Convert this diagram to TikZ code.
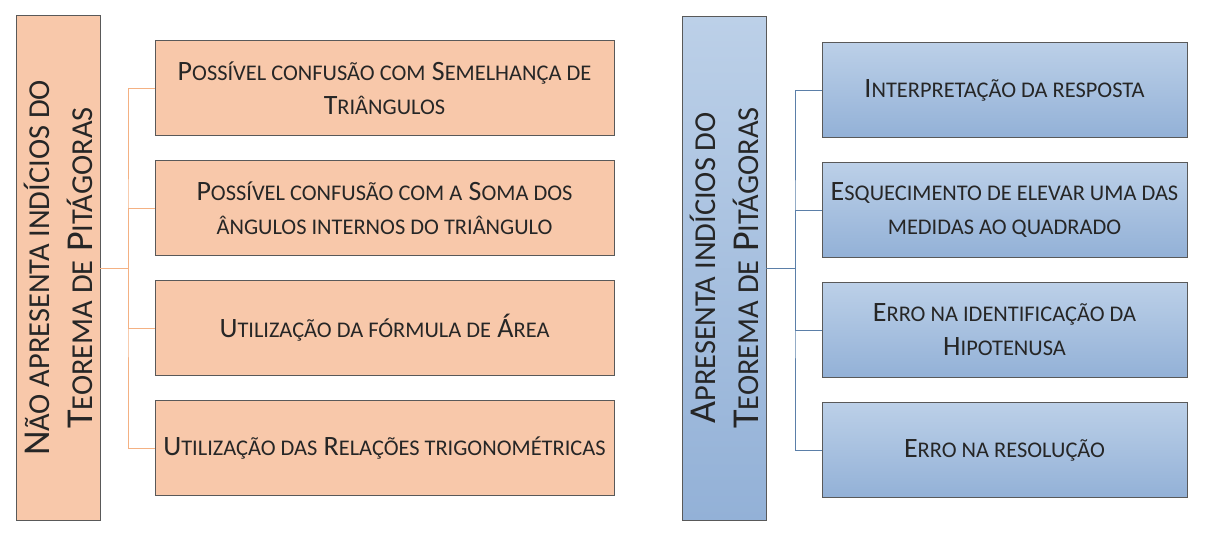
\documentclass[tikz,border=0pt]{standalone}
\usepackage{fontspec}
\setmainfont{Carlito}
\newcommand\sm[1]{{\addfontfeature{Scale=0.8}\MakeUppercase{#1}}}
\begin{document}
\begin{tikzpicture}[x=1pt,y=-1pt,
  obox/.style={draw=gray!70!black,line width=0.8pt,fill=ora},
  bbox/.style={draw=gray!70!black,line width=0.8pt,top color=bluT,bottom color=bluB},
  txt/.style={align=center,font=\fontsize{28}{34}\selectfont,text=black!85},
  vtxt/.style={align=center,font=\fontsize{38}{43}\selectfont,text=black!85,rotate=90},
  oline/.style={draw=linO,line width=1pt},
  bline/.style={draw=linB,line width=1pt}]
\definecolor{ora}{HTML}{F8C8AA}
\definecolor{bluT}{HTML}{BCD0E8}
\definecolor{bluB}{HTML}{93B1D7}
\definecolor{linO}{HTML}{F4B183}
\definecolor{linB}{HTML}{5B7FA8}
\useasboundingbox (0,0) rectangle (1208,538);
% left
\draw[obox] (16,15) rectangle (100,520);
\node[vtxt] (L) at (58,268) {N\sm{ão apresenta indícios do}\\T\sm{eorema de} P\sm{itágoras}};
\coordinate (Lr) at (100,268);
\coordinate (Lj) at (128,268);
\foreach \i/\y/\t in {1/88/{P\sm{ossível confusão com} S\sm{emelhança de}\\T\sm{riângulos}},
  2/208/{P\sm{ossível confusão com a} S\sm{oma dos}\\\sm{ângulos internos do triângulo}},
  3/328/{U\sm{tilização da fórmula de} Á\sm{rea}},
  4/448/{U\sm{tilização das} R\sm{elações trigonométricas}}}{
  \draw[obox] (155,\y-48) rectangle (614,\y+47);
  \node[txt] (a\i) at (384.5,\y) {\t};
  \coordinate (al\i) at (155,\y);
}
\draw[oline] (Lr) -- (Lj);
\draw[oline] (al1) -| (Lj) |- (al4);
\draw[oline] (Lj) |- (al2);
\draw[oline] (Lj) |- (al3);
% right
\draw[bbox] (682,16) rectangle (766,520);
\node[vtxt] (R) at (724,268) {A\sm{presenta indícios do}\\T\sm{eorema de} P\sm{itágoras}};
\coordinate (Rr) at (766,268);
\coordinate (Rj) at (795,268);
\foreach \i/\y/\t in {1/90/{I\sm{nterpretação da resposta}},
  2/210/{E\sm{squecimento de elevar uma das}\\\sm{medidas ao quadrado}},
  3/330/{E\sm{rro na identificação da}\\H\sm{ipotenusa}},
  4/450/{E\sm{rro na resolução}}}{
  \draw[bbox] (822,\y-48) rectangle (1187,\y+47);
  \node[txt] (b\i) at (1004.5,\y) {\t};
  \coordinate (bl\i) at (822,\y);
}
\draw[bline] (Rr) -- (Rj);
\draw[bline] (bl1) -| (Rj) |- (bl4);
\draw[bline] (Rj) |- (bl2);
\draw[bline] (Rj) |- (bl3);
\end{tikzpicture}
\end{document}
